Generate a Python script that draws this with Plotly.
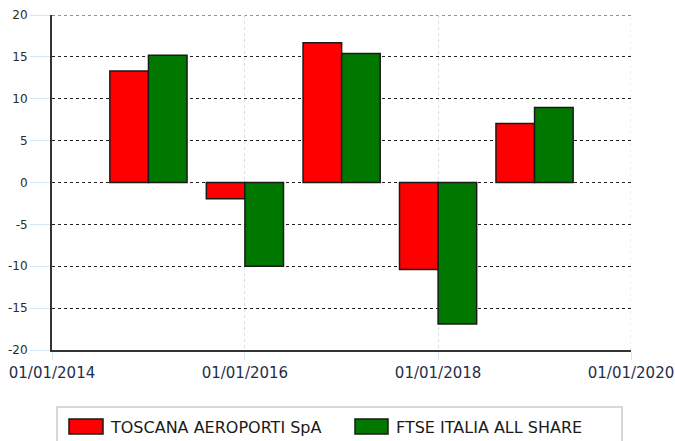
import plotly.graph_objects as go

# ---- data ----
periods = ["2015-01-01", "2016-01-01", "2017-01-01", "2018-01-01", "2019-01-01"]
series_names = ["TOSCANA AEROPORTI SpA", "FTSE ITALIA ALL SHARE"]
toscana = [13.3, -1.95, 16.7, -10.4, 7.05]
ftse = [15.2, -10.0, 15.4, -16.9, 8.95]
y_ticks = [-20, -15, -10, -5, 0, 5, 10, 15, 20]
y_tick_labels = ["-20", "-15", "-10", "-5", "0", "5", "10", "15", "20"]
x_ticks = ["2014-01-01", "2016-01-01", "2018-01-01", "2020-01-01"]
x_tick_labels = ["01/01/2014", "01/01/2016", "01/01/2018", "01/01/2020"]

colors = ["#ff0000", "#007800"]

W, H = 675, 441
ML, MR, MT, MB = 52, 44, 15, 91
PW, PH = W - ML - MR, H - MT - MB


def px_x(x):
    return (x - ML) / PW


def px_y(y):
    return (H - MB - y) / PH


fig = go.Figure()
for name, vals, col in zip(series_names, [toscana, ftse], colors):
    fig.add_trace(go.Bar(
        x=periods, y=vals, name=name,
        marker=dict(color=col, line=dict(color="#1a1a1a", width=1.5)),
        showlegend=False,
    ))

font_family = "DejaVu Sans"

fig.update_layout(
    width=W, height=H,
    margin=dict(l=ML, r=MR, t=MT, b=MB, pad=0, autoexpand=False),
    paper_bgcolor="white", plot_bgcolor="white",
    barmode="group", bargap=0.2, bargroupgap=0,
    xaxis=dict(
        type="date", range=["2014-01-01", "2020-01-01"],
        tickvals=x_ticks, ticktext=x_tick_labels, automargin=False,
        showgrid=True, gridcolor="#cfe2f5", griddash="dot", gridwidth=1,
        showline=True, linecolor="#333333", linewidth=2,
        ticks="outside", ticklen=8, tickcolor="#d6e6f7", tickwidth=1,
        tickfont=dict(family=font_family, size=15, color="#1f2f4a"),
        zeroline=False,
    ),
    yaxis=dict(
        range=[-20, 20], tickvals=y_ticks, ticktext=y_tick_labels, automargin=False,
        showgrid=True, gridcolor="#222222", griddash="dot", gridwidth=1,
        showline=True, linecolor="#333333", linewidth=2,
        ticks="outside", ticklen=20, tickcolor="#d6e6f7", tickwidth=1,
        tickfont=dict(family=font_family, size=12, color="#2a2a2a"),
        zeroline=False,
    ),
)

# edge gridlines (right date tick, top value tick)
shapes = [
    dict(type="line", xref="x", yref="paper", x0=x_ticks[-1], x1=x_ticks[-1],
         y0=0, y1=1, line=dict(color="#cfe2f5", width=1, dash="dot"), layer="below"),
    dict(type="line", xref="paper", yref="y", x0=0, x1=1,
         y0=y_ticks[-1], y1=y_ticks[-1], line=dict(color="#222222", width=1, dash="dot"),
         layer="below"),
]
# Legend drawn as shapes + text
shapes.append(dict(type="rect", xref="paper", yref="paper",
                   x0=px_x(57), x1=px_x(622), y0=px_y(460), y1=px_y(407),
                   line=dict(color="#cccccc", width=1.5), fillcolor="white", layer="above"))
sw = [(69, 103), (355, 388)]
tx = [108, 394]
for (a, b), col, t, name in zip(sw, colors, tx, series_names):
    shapes.append(dict(type="rect", xref="paper", yref="paper",
                       x0=px_x(a), x1=px_x(b), y0=px_y(434), y1=px_y(419),
                       fillcolor=col, line=dict(color="#1a1a1a", width=1.5)))
    fig.add_annotation(xref="paper", yref="paper", x=px_x(t), y=px_y(427),
                       text=name, showarrow=False, xanchor="left", yanchor="middle",
                       font=dict(family=font_family, size=16, color="#1a1a1a"))
fig.update_layout(shapes=shapes)

fig.write_html("out.html", config={"displayModeBar": False},
               post_script="document.body.style.margin='0';document.body.style.overflow='hidden';")
